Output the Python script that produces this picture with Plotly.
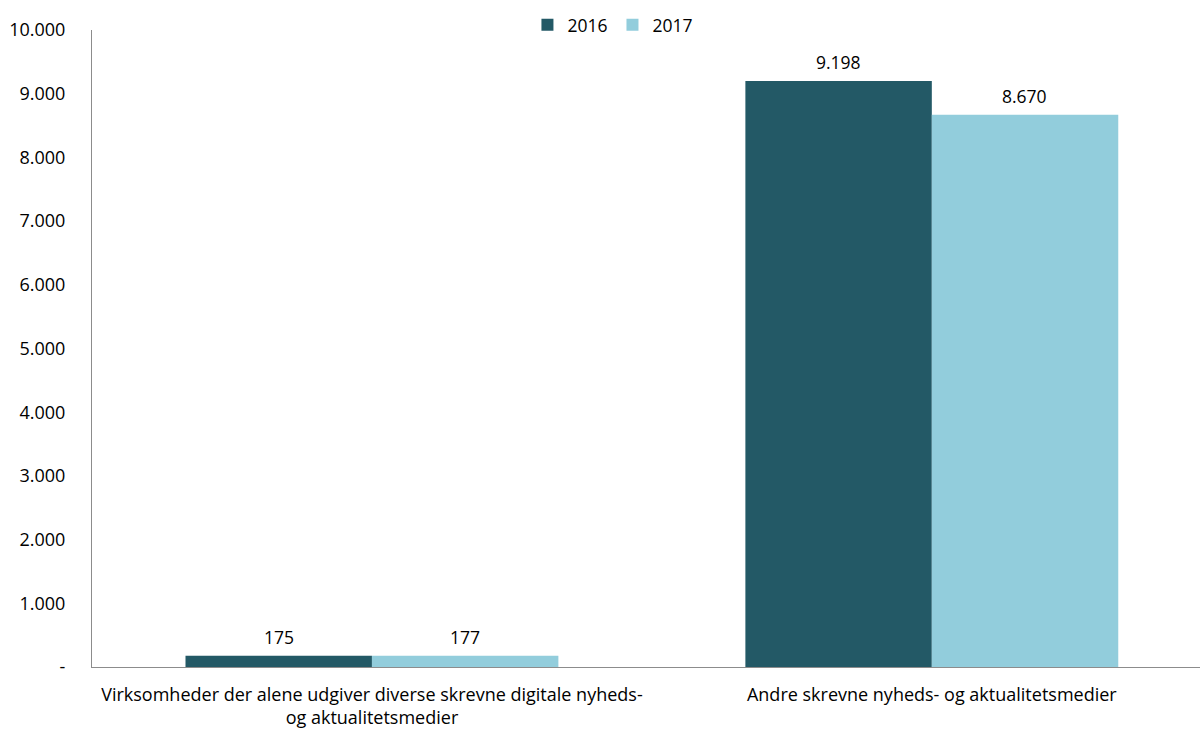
import plotly.graph_objects as go

categories = [
    "Virksomheder der alene udgiver diverse skrevne digitale nyheds-<br>og aktualitetsmedier",
    "Andre skrevne nyheds- og aktualitetsmedier",
]
values_2016 = [175, 9198]
values_2017 = [177, 8670]
tick_values = [0, 1000, 2000, 3000, 4000, 5000, 6000, 7000, 8000, 9000, 10000]
tick_labels = ["-", "1.000", "2.000", "3.000", "4.000", "5.000",
               "6.000", "7.000", "8.000", "9.000", "10.000"]

FONT = "Open Sans, sans-serif"
BAR_PX = 186  # pixel width of one bar, used to centre value labels

fig = go.Figure()
series = [("2016", values_2016, "#235966", -1), ("2017", values_2017, "#92CDDC", 1)]
for name, vals, color, side in series:
    fig.add_trace(go.Bar(
        name=name, x=categories, y=vals,
        marker=dict(color=color, line=dict(width=0)),
        cliponaxis=False,
    ))
    for cat, v in zip(categories, vals):
        fig.add_annotation(
            x=cat, y=v, xref="x", yref="y",
            text=f"{v:,}".replace(",", "."),
            showarrow=False, yanchor="bottom", yshift=5,
            xshift=side * BAR_PX / 2,
            font=dict(size=17.5, color="#000000", family=FONT),
        )

fig.update_layout(
    width=1200, height=729,
    barmode="group", bargap=0.334, bargroupgap=0,
    plot_bgcolor="white", paper_bgcolor="white",
    margin=dict(l=92, r=0, t=30, b=62),
    font=dict(family=FONT, size=18, color="#000000"),
    legend=dict(orientation="h", x=0.393, xanchor="left", y=1.008,
                yanchor="middle", font=dict(size=17.5),
                itemwidth=30, traceorder="normal"),
    xaxis=dict(range=[-0.5, 1.479], showline=True, linecolor="#8c8c8c",
               linewidth=1, ticks="", showgrid=False,
               ticklabelstandoff=11, tickfont=dict(size=18)),
    yaxis=dict(range=[0, 10000], tickvals=tick_values, ticktext=tick_labels,
               showline=True, linecolor="#8c8c8c", linewidth=1,
               showgrid=False, zeroline=False, ticks="",
               ticklabelstandoff=22, tickfont=dict(size=18)),
)

fig.write_html("out.html")
